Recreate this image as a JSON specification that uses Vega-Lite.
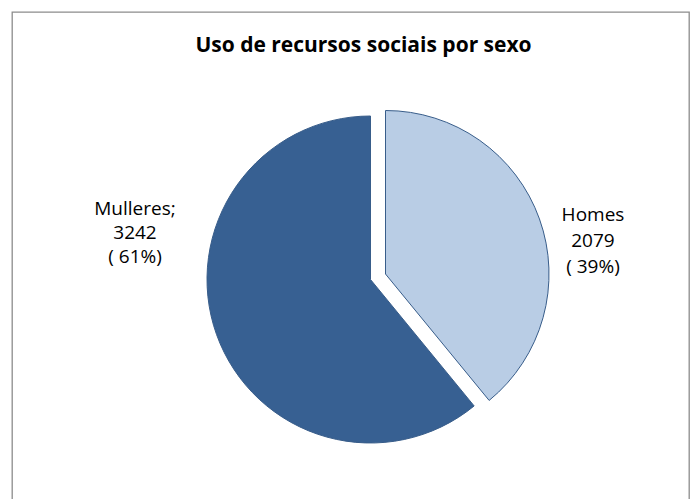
{
  "$schema": "https://vega.github.io/schema/vega-lite/v6.json",
  "width": 677,
  "height": 500,
  "autosize": {"type": "none"},
  "padding": {"left": 12, "top": 12, "right": 4, "bottom": -13},
  "background": "white",
  "view": {"stroke": "#8c8c8c", "strokeWidth": 1.3},
  "title": {
    "text": "Uso de recursos sociais por sexo",
    "font": "Open Sans",
    "fontSize": 21,
    "fontWeight": "bold",
    "color": "black",
    "anchor": "middle",
    "frame": "group",
    "offset": -44,
    "dx": 13
  },
  "data": {
    "values": [
      {"sexo": "Homes", "n": 2079, "label": "Homes\n2079\n( 39%)"},
      {"sexo": "Mulleres", "n": 3242, "label": "Mulleres;\n3242\n( 61%)"}
    ]
  },
  "encoding": {
    "theta": {"field": "n", "type": "quantitative", "stack": true},
    "color": {
      "field": "sexo",
      "type": "nominal",
      "scale": {"domain": ["Homes", "Mulleres"], "range": ["#B9CDE5", "#376092"]},
      "legend": null
    }
  },
  "layer": [
    {
      "mark": {"type": "arc", "outerRadius": 163.5, "xOffset": 20, "yOffset": 17.5, "stroke": "#385D8A", "strokeWidth": 1},
      "encoding": {
        "opacity": {"condition": {"test": "datum.sexo === 'Homes'", "value": 0}, "value": 1}
      }
    },
    {
      "mark": {"type": "arc", "outerRadius": 163.5, "xOffset": 35, "yOffset": 12, "stroke": "#385D8A", "strokeWidth": 1},
      "encoding": {
        "opacity": {"condition": {"test": "datum.sexo === 'Mulleres'", "value": 0}, "value": 1}
      }
    },
    {
      "mark": {"type": "text", "radius": 180, "xOffset": 20, "yOffset": 17.5, "dx": 53, "dy": -3.5, "font": "Open Sans", "fontSize": 19, "lineHeight": 26, "lineBreak": "\n", "align": "center", "baseline": "middle", "color": "black"},
      "encoding": {
        "color": {"value": "black"},
        "text": {"condition": {"test": "datum.sexo === 'Homes'", "field": "label"}, "value": ""}
      }
    },
    {
      "mark": {"type": "text", "radius": 180, "xOffset": 20, "yOffset": 17.5, "dx": -66, "dy": -131.5, "font": "Open Sans", "fontSize": 19, "lineHeight": 24, "lineBreak": "\n", "align": "center", "baseline": "middle", "color": "black"},
      "encoding": {
        "color": {"value": "black"},
        "text": {"condition": {"test": "datum.sexo === 'Mulleres'", "field": "label"}, "value": ""}
      }
    }
  ]
}
